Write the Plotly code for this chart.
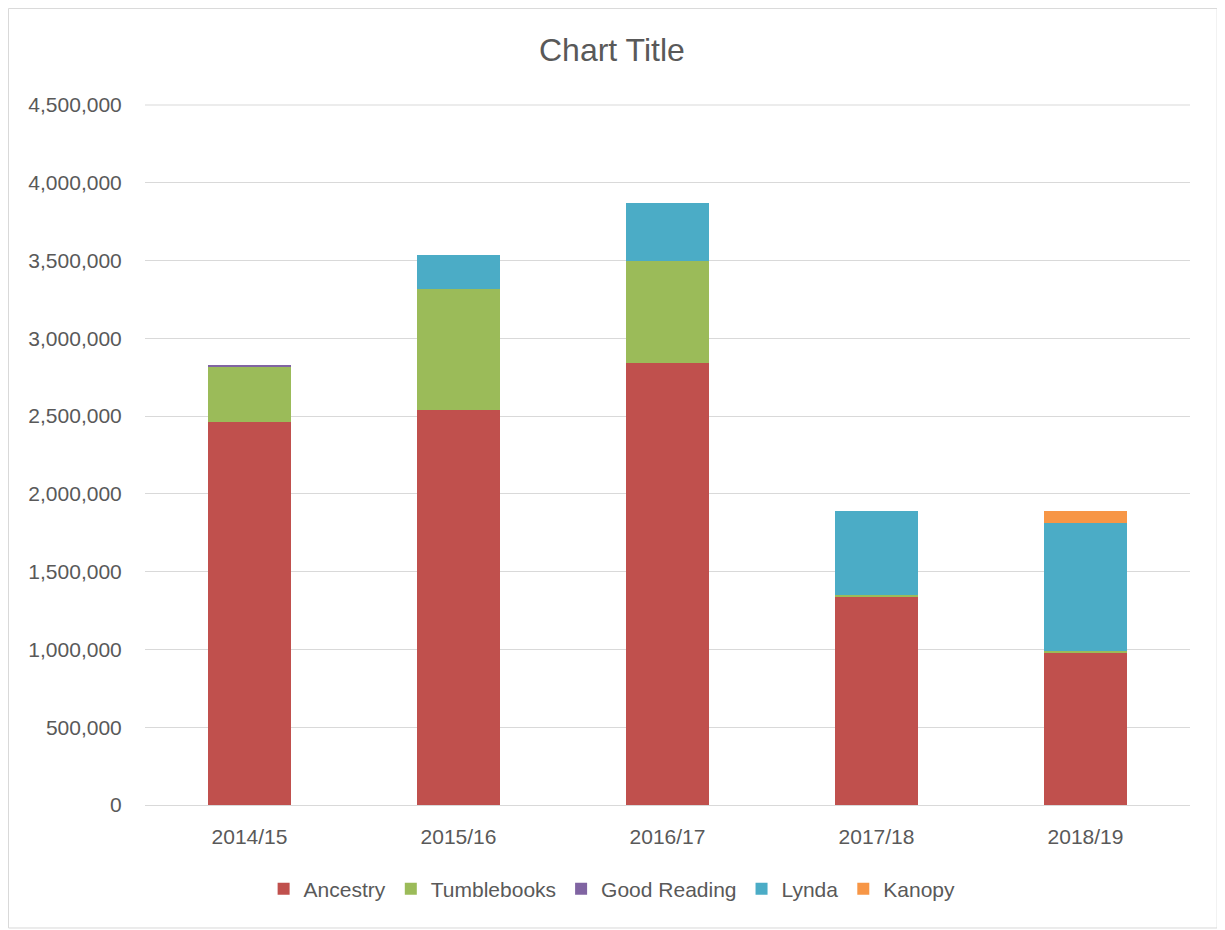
import plotly.graph_objects as go

years = ["2014/15", "2015/16", "2016/17", "2017/18", "2018/19"]
ancestry = [2464000, 2539000, 2843000, 1339000, 977000]
tumblebooks = [352000, 776000, 654000, 13000, 13000]
good_reading = [7000, 0, 0, 0, 0]
lynda = [0, 221000, 371000, 540000, 823000]
kanopy = [0, 0, 0, 0, 77000]
y_ticks = [0, 500000, 1000000, 1500000, 2000000, 2500000, 3000000, 3500000, 4000000, 4500000]

series = [
    ("Ancestry", ancestry, "#c0504d"),
    ("Tumblebooks", tumblebooks, "#9bbb59"),
    ("Good Reading", good_reading, "#8064a2"),
    ("Lynda", lynda, "#4bacc6"),
    ("Kanopy", kanopy, "#f79646"),
]

font_family = "Liberation Sans, Arial, sans-serif"
fig = go.Figure()
for name, vals, color in series:
    fig.add_trace(go.Bar(name=name, x=years, y=vals, marker=dict(color=color, line=dict(width=0))))

fig.update_layout(
    barmode="stack",
    bargap=0.6,
    width=1225, height=930,
    margin=dict(l=137, r=43, t=97, b=133),
    paper_bgcolor="white", plot_bgcolor="white",
    font=dict(family=font_family, color="#595959", size=21),
    title=dict(text="Chart Title", x=0.493, xanchor="center", y=0.955, yanchor="middle",
               font=dict(size=32, color="#595959", family=font_family)),
    legend=dict(orientation="h", x=0.447, xanchor="center", y=-0.12, yanchor="middle",
                font=dict(size=21, color="#595959"), traceorder="normal", itemwidth=30),
    yaxis=dict(range=[0, y_ticks[-1]], tickvals=y_ticks,
               tickformat=",d", showgrid=True,
               gridcolor="#d9d9d9", gridwidth=1, zeroline=False, ticks="outside",
               ticklen=18, tickcolor="rgba(0,0,0,0)"),
    xaxis=dict(showline=True, linecolor="#d9d9d9", linewidth=1, ticks="outside",
               ticklen=13, tickcolor="rgba(0,0,0,0)"),
    shapes=[
        dict(type="rect", xref="paper", yref="paper", x0=-0.1306, x1=1.026,
             y0=-0.1757, y1=1.1379, line=dict(color="#d9d9d9", width=1), layer="below"),
        dict(type="line", xref="paper", yref="paper", x0=0, x1=1, y0=1, y1=1,
             line=dict(color="#d9d9d9", width=1), layer="below"),
    ],
)

fig.write_html("out.html")
